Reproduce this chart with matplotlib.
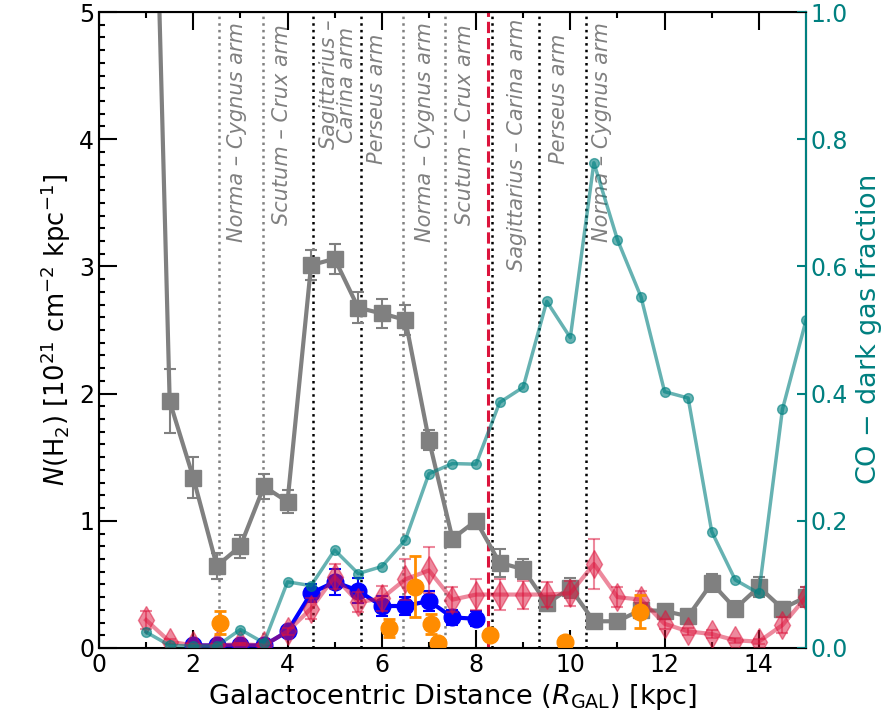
import matplotlib.pyplot as plt
import numpy as np

r_bins = np.arange(1.0, 15.01, 0.5)

# total N(H2) (grey squares)
nh2_total = np.array([9.0, 1.94, 1.34, 0.645, 0.80, 1.27, 1.15, 3.01, 3.06, 2.675, 2.63, 2.58, 1.635, 0.86, 1.0,
                      0.67, 0.62, 0.35, 0.47, 0.21, 0.21, 0.30, 0.29, 0.25, 0.51, 0.31, 0.48, 0.31, 0.40])
nh2_total_err = np.array([0.5, 0.25, 0.16, 0.1, 0.09, 0.1, 0.09, 0.12, 0.12, 0.12, 0.115, 0.12, 0.08, 0.03, 0.03,
                          0.11, 0.08, 0.06, 0.08, 0.02, 0.02, 0.04, 0.03, 0.04, 0.07, 0.06, 0.08, 0.05, 0.08])

# CO-dark H2 (pink diamonds)
nh2_dark = np.array([0.22, 0.05, 0.02, 0.02, 0.03, 0.02, 0.13, 0.31, 0.56, 0.36, 0.39, 0.54, 0.61, 0.38, 0.42,
                     0.42, 0.42, 0.42, 0.43, 0.66, 0.40, 0.38, 0.19, 0.13, 0.11, 0.06, 0.05, 0.18, 0.40])
nh2_dark_err = np.array([0.07, 0.02, 0.01, 0.01, 0.01, 0.01, 0.03, 0.08, 0.1, 0.08, 0.1, 0.16, 0.18, 0.1, 0.12,
                         0.12, 0.11, 0.1, 0.1, 0.2, 0.08, 0.07, 0.04, 0.03, 0.03, 0.02, 0.02, 0.06, 0.08])

# blue circles
r_blue = np.arange(2.0, 8.01, 0.5)
nh2_blue = np.array([0.02, 0.02, 0.02, 0.02, 0.13, 0.43, 0.52, 0.45, 0.33, 0.33, 0.37, 0.24, 0.23])
nh2_blue_err = np.array([0.01, 0.01, 0.01, 0.01, 0.03, 0.07, 0.1, 0.1, 0.08, 0.07, 0.08, 0.06, 0.06])

# orange circles
r_orange = np.array([2.57, 6.15, 6.71, 7.04, 7.19, 8.3, 9.89, 11.48])
nh2_orange = np.array([0.2, 0.155, 0.48, 0.19, 0.04, 0.1, 0.05, 0.285])
nh2_orange_err = np.array([0.09, 0.07, 0.24, 0.08, 0.03, 0.02, 0.02, 0.13])

# CO-dark gas fraction (right axis)
dark_frac = np.array([0.025, 0.004, 0.003, 0.003, 0.029, 0.008, 0.104, 0.098, 0.154, 0.117, 0.128, 0.17, 0.274,
                      0.29, 0.289, 0.386, 0.41, 0.545, 0.488, 0.763, 0.642, 0.552, 0.403, 0.393, 0.183, 0.107,
                      0.086, 0.375, 0.515])

# spiral arm tangents
arm_lines_grey = [2.55, 3.47, 6.45, 7.35]
arm_lines_black = [4.55, 5.56, 8.33, 9.34, 10.33]
r_sun = 8.25
arm_labels = ["Norma – Cygnus arm", "Scutum – Crux arm", "Sagittarius –\nCarina arm", "Perseus arm",
              "Norma – Cygnus arm", "Scutum – Crux arm", "Sagittarius – Carina arm", "Perseus arm",
              "Norma – Cygnus arm"]
arm_label_x = [2.92, 3.88, 5.07, 5.9, 6.92, 7.77, 8.87, 9.75, 10.67]
arm_label_y = [4.92, 4.90, 4.94, 4.83, 4.92, 4.90, 4.95, 4.83, 4.92]

fig, ax = plt.subplots(figsize=(8.9, 7.24), dpi=100)
fig.subplots_adjust(left=0.1112, right=0.9056, top=0.9834, bottom=0.105)

for x in arm_lines_grey:
    ax.axvline(x, color="grey", ls=":", lw=1.8, zorder=1)
for x in arm_lines_black:
    ax.axvline(x, color="k", ls=":", lw=1.8, zorder=1)
ax.axvline(r_sun, color="crimson", ls="--", lw=2.2, zorder=1)

for lab, x, y in zip(arm_labels, arm_label_x, arm_label_y):
    ax.text(x, y, lab, rotation=90, ha="center", va="top", color="grey", fontsize=15,
            style="italic", linespacing=0.9, multialignment="center")

ax.errorbar(r_bins, nh2_total, yerr=nh2_total_err, color="grey", marker="s", ms=11, lw=3,
            capsize=4, elinewidth=1.5, capthick=1.5, zorder=3)
ax.errorbar(r_blue, nh2_blue, yerr=nh2_blue_err, color="blue", marker="o", ms=12, lw=3,
            capsize=4, elinewidth=1.5, capthick=1.5, zorder=4)
ax.errorbar(r_bins, nh2_dark, yerr=nh2_dark_err, color="crimson", marker="d", ms=14, lw=3,
            capsize=4, elinewidth=1.5, capthick=1.5, alpha=0.5, zorder=5)
ax.errorbar(r_orange, nh2_orange, yerr=nh2_orange_err, color="darkorange", marker="o", ms=12, ls="none",
            capsize=4, elinewidth=2, capthick=2, zorder=6)

ax.set_xlim(0, 15)
ax.set_ylim(0, 5)
ax.set_xticks(np.arange(0, 15, 2))
ax.set_xticks(np.arange(1, 15, 2), minor=True)
ax.set_yticks(np.arange(0, 5.1, 1))
ax.set_yticks(np.arange(0, 5.01, 0.1), minor=True)
ax.tick_params(which="both", direction="in", top=True, right=False, labelsize=17, width=1.5)
ax.tick_params(which="major", length=13)
ax.tick_params(which="minor", length=4.5)
for s in ax.spines.values():
    s.set_linewidth(1.5)
ax.set_xlabel("Galactocentric Distance ($R_{\\rm GAL}$) [kpc]", fontsize=19.5)
ax.set_ylabel("$N$(H$_2$) [10$^{21}$ cm$^{-2}$ kpc$^{-1}$]", fontsize=18.5)

ax2 = ax.twinx()
ax2.plot(r_bins, dark_frac, color="teal", marker="o", ms=7, lw=2.5, alpha=0.6)
ax2.set_ylim(0, 1)
ax2.set_yticks(np.arange(0, 1.01, 0.2))
ax2.tick_params(axis="y", direction="in", colors="teal", labelsize=17, length=6.5, width=1.5)
ax2.spines["right"].set_color("teal")
ax2.spines["right"].set_linewidth(1.5)
ax2.set_ylabel("CO $-$ dark gas fraction", color="teal", fontsize=19.5)

plt.savefig("out.png")
